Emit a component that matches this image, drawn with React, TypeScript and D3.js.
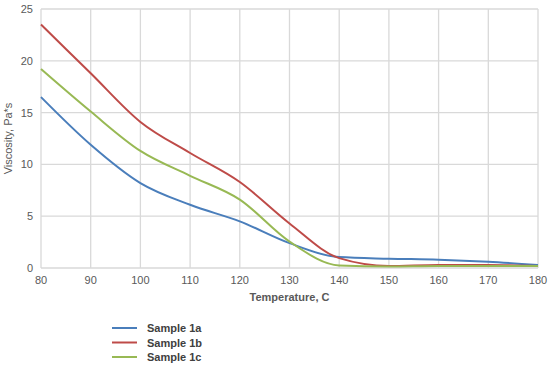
import { useEffect, useRef } from "react";
import * as d3 from "d3";

const temps = [80, 90, 100, 110, 120, 130, 140, 150, 160, 170, 180];
const sample1a = [16.5, 11.9, 8.2, 6.1, 4.5, 2.4, 1.05, 0.9, 0.8, 0.6, 0.3];
const sample1b = [23.5, 18.8, 14.1, 11.1, 8.3, 4.3, 0.95, 0.2, 0.3, 0.3, 0.2];
const sample1c = [19.2, 15.1, 11.3, 8.9, 6.6, 2.55, 0.25, 0.15, 0.2, 0.2, 0.2];
const seriesNames = ["Sample 1a", "Sample 1b", "Sample 1c"];
const seriesColors = ["#4a7ebb", "#be4b48", "#98b954"];
const yTicks = [0, 5, 10, 15, 20, 25];

const W = 550;
const H = 368;
const font = "'Liberation Sans', Arial, sans-serif";
const textColor = "#595959";

export default function App() {
  const ref = useRef<SVGSVGElement>(null);

  useEffect(() => {
    if (!ref.current) return;
    const svg = d3.select(ref.current);
    svg.selectAll("*").remove();

    const x = d3.scaleLinear().domain([80, 180]).range([41, 538]);
    const y = d3.scaleLinear().domain([0, 25]).range([268, 9]);

    const grid = svg.append("g");
    grid.selectAll("line.v")
      .data(temps)
      .join("line")
      .attr("x1", d => x(d)).attr("x2", d => x(d))
      .attr("y1", y(25)).attr("y2", y(0))
      .attr("stroke", "#d9d9d9").attr("stroke-width", 1.3);
    grid.selectAll("line.h")
      .data(yTicks)
      .join("line")
      .attr("x1", x(80)).attr("x2", x(180))
      .attr("y1", d => y(d)).attr("y2", d => y(d))
      .attr("stroke", "#d9d9d9").attr("stroke-width", 1.3);

    svg.append("g").selectAll("text")
      .data(yTicks)
      .join("text")
      .attr("x", 33).attr("y", d => y(d) + 4)
      .attr("text-anchor", "end")
      .attr("font-family", font).attr("font-size", 11).attr("fill", textColor)
      .text(d => d);

    svg.append("g").selectAll("text")
      .data(temps)
      .join("text")
      .attr("x", d => x(d)).attr("y", 284)
      .attr("text-anchor", "middle")
      .attr("font-family", font).attr("font-size", 11).attr("fill", textColor)
      .text(d => d);

    svg.append("text")
      .attr("x", (x(80) + x(180)) / 2).attr("y", 301)
      .attr("text-anchor", "middle")
      .attr("font-family", font).attr("font-size", 11).attr("font-weight", 600)
      .attr("fill", textColor)
      .text("Temperature, C");

    svg.append("text")
      .attr("transform", `translate(12,${(y(0) + y(25)) / 2}) rotate(-90)`)
      .attr("text-anchor", "middle")
      .attr("font-family", font).attr("font-size", 11)
      .attr("fill", textColor)
      .text("Viscosity, Pa*s");

    const line = d3.line<number>()
      .x((_, i) => x(temps[i]))
      .y(d => y(d))
      .curve(d3.curveMonotoneX);

    [sample1a, sample1b, sample1c].forEach((s, i) => {
      svg.append("path")
        .attr("d", line(s))
        .attr("fill", "none")
        .attr("stroke", seriesColors[i])
        .attr("stroke-width", 2);
    });

    const legend = svg.append("g");
    seriesNames.forEach((name, i) => {
      const ly = 328 + i * 14.5;
      legend.append("line")
        .attr("x1", 112).attr("x2", 137)
        .attr("y1", ly).attr("y2", ly)
        .attr("stroke", seriesColors[i]).attr("stroke-width", 2);
      legend.append("text")
        .attr("x", 147).attr("y", ly + 4)
        .attr("font-family", font).attr("font-size", 11).attr("font-weight", 600)
        .attr("fill", "#404040")
        .text(name);
    });
  }, []);

  return (
    <svg ref={ref} width={W} height={H} style={{ position: "absolute", left: 0, top: 0, background: "#fff" }} />
  );
}
